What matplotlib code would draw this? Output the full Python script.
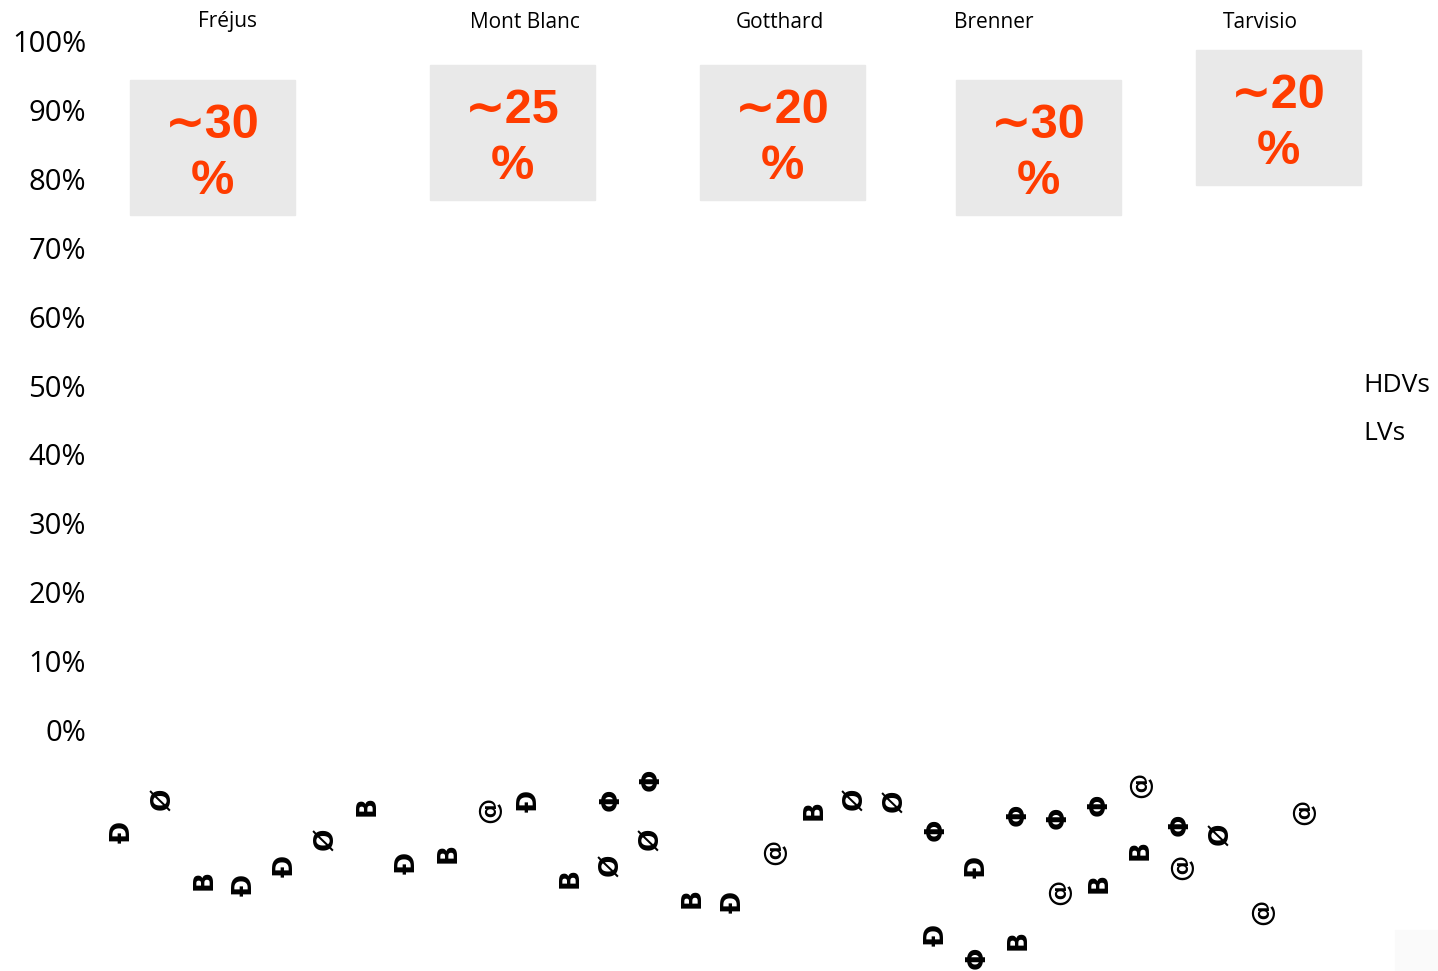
import matplotlib
matplotlib.use('Agg')
import matplotlib.pyplot as plt
from matplotlib.patches import Rectangle

W, H = 1438, 971

# data
tunnels = ['Fréjus', 'Mont Blanc', 'Gotthard', 'Brenner', 'Tarvisio']
hdv_share = ['∼30\n%', '∼25\n%', '∼20\n%', '∼30\n%', '∼20\n%']
series = ['HDVs', 'LVs']
yticks = [0, 10, 20, 30, 40, 50, 60, 70, 80, 90, 100]
# garbled category labels along the x axis (one or two per slot)
xlabels = [['Ð'], ['Ø'], ['B'], ['Ð'], ['Ð'], ['Ø'], ['B'], ['Ð'],
           ['B'], ['@'], ['Ð'], ['B'], ['Φ', 'Ø'], ['Φ', 'Ø'],
           ['B'], ['Ð'], ['@'], ['B'], ['Ø'], ['Ø'], ['Φ', 'Ð'],
           ['Ð', 'Φ'], ['Φ', 'B'], ['Φ', '@'], ['Φ', 'B'],
           ['@', 'B'], ['Φ', '@'], ['Ø'], ['@'], ['@']]

# layout (pixels)
label_y = [[832], [800], [880], [885], [866], [840], [806], [863], [853], [810],
           [801], [878], [800, 866], [780, 840], [898], [902], [852], [810],
           [800], [802], [830, 935], [867, 958], [815, 940], [818, 892],
           [805, 883], [785, 850], [825, 867], [835], [912], [812]]
name_x = [227, 525, 780, 994, 1260]
box_left = [130, 430, 700, 956, 1196]
box_top = [80, 65, 65, 80, 50]
box_w, box_h = 165, 135

fig = plt.figure(figsize=(W / 100, H / 100), dpi=100)
ax_left, ax_right, y0, y100 = 100, 1340, 730, 41
ax = fig.add_axes([ax_left / W, 1 - y0 / H, (ax_right - ax_left) / W, (y0 - y100) / H])
ax.set_ylim(0, 100)
slot = 40.69
ax.set_xlim(-(123 - ax_left) / slot, -(123 - ax_left) / slot + (ax_right - ax_left) / slot)
ax.set_yticks(yticks)
ax.set_yticklabels([f'{v}%' for v in yticks], fontsize=21, family='Open Sans')
ax.tick_params(axis='y', length=0, pad=10)
ax.set_xticks([])
for s in ax.spines.values():
    s.set_visible(False)

# x labels
for i, (labs, ys) in enumerate(zip(xlabels, label_y)):
    for lab, yp in zip(labs, ys):
        ya = -(yp - y0) / (y0 - y100)
        ax.text(i, ya, lab, transform=ax.get_xaxis_transform(), rotation=90,
                ha='center', va='center', fontsize=19, fontweight='bold',
                family='DejaVu Sans', color='black', clip_on=False)

# tunnel names and grey boxes
for name, nx, txt, bl, bt in zip(tunnels, name_x, hdv_share, box_left, box_top):
    fig.text(nx / W, 1 - 22 / H, name, ha='center', va='center', fontsize=15,
             family='Open Sans')
    fig.patches.append(Rectangle((bl / W, 1 - (bt + box_h) / H), box_w / W, box_h / H,
                                 transform=fig.transFigure, color='#e9e9e9', zorder=0))
    fig.text((bl + box_w / 2) / W, 1 - (bt + box_h / 2 + 6) / H, txt, ha='center',
             va='center', fontsize=35, fontweight='bold',
             family=['Liberation Sans', 'DejaVu Sans'],
             color='#ff3c00', linespacing=1.3)

# legend
for k, s in enumerate(series):
    fig.text(1363 / W, 1 - (386 + 48 * k) / H, s, ha='left', va='center',
             fontsize=19, family='Open Sans')

fig.patches.append(Rectangle((1395 / W, 0), 43 / W, 41 / H, transform=fig.transFigure,
                             color='#fafafa', zorder=0))

fig.savefig('out.png', dpi=100)
